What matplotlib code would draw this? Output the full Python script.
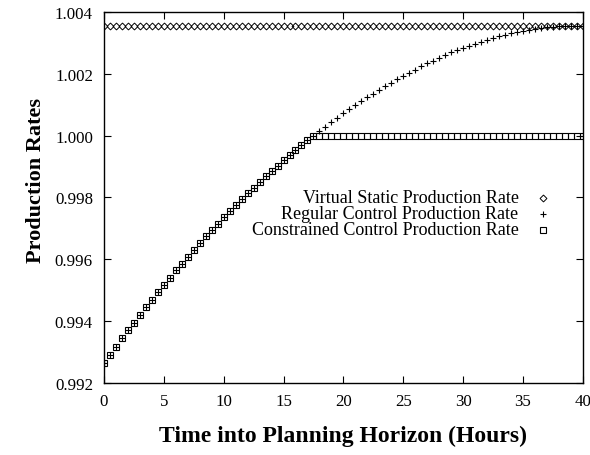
import matplotlib
matplotlib.use("Agg")
import matplotlib.pyplot as plt

# hours into planning horizon, one sample every half hour
hours = [i * 0.5 for i in range(81)]

# values
virtual_static = [1.00355] * 81

regular = [
    0.99265, 0.99292, 0.99318, 0.99344, 0.99370, 0.99395, 0.99420, 0.99445,
    0.99469, 0.99493, 0.99517, 0.99541, 0.99564, 0.99586, 0.99609, 0.99631,
    0.99652, 0.99674, 0.99695, 0.99715, 0.99736, 0.99756, 0.99775, 0.99794,
    0.99813, 0.99832, 0.99850, 0.99868, 0.99886, 0.99903, 0.99920, 0.99937,
    0.99953, 0.99969, 0.99985, 1.00000, 1.00015, 1.00029, 1.00044, 1.00057,
    1.00073, 1.00086, 1.00099, 1.00112, 1.00124, 1.00136, 1.00148, 1.00160,
    1.00171, 1.00182, 1.00193, 1.00204, 1.00214, 1.00224, 1.00234, 1.00243,
    1.00252, 1.00261, 1.00269, 1.00277, 1.00284, 1.00291, 1.00298, 1.00304,
    1.00310, 1.00316, 1.00321, 1.00326, 1.00331, 1.00335, 1.00339, 1.00342,
    1.00345, 1.00348, 1.00351, 1.00353, 1.00355, 1.00355, 1.00355, 1.00355,
    1.00355,
]

# constrained run follows the regular one until it reaches 1.000, then stays there
constrained = regular[:35] + [1.0] * 46

labels = [
    "Virtual Static Production Rate",
    "Regular Control Production Rate",
    "Constrained Control Production Rate",
]

plt.rcParams["font.family"] = ["Liberation Serif", "DejaVu Serif"]

fig = plt.figure(figsize=(5.9, 4.56), dpi=100)
ax = fig.add_axes([0.1763, 0.1579, 0.8113, 0.8136])

styles = [
    dict(marker="D", ms=3.5, mew=0.7, mfc="none"),
    dict(marker="+", ms=5.0, mew=0.8),
    dict(marker="s", ms=4.0, mew=0.8, mfc="none"),
]

for ys, st in zip([virtual_static, regular, constrained], styles):
    ax.plot(hours, ys, ls="none", color="black", **st)

ax.set_xlim(0, 40)
ax.set_ylim(0.992, 1.004)
ax.set_xticks(range(0, 41, 5))
ax.set_yticks([0.992, 0.994, 0.996, 0.998, 1.000, 1.002, 1.004])
ax.set_yticklabels(["0.992", "0.994", "0.996", "0.998", "1.000", "1.002", "1.004"])
ax.tick_params(direction="in", length=5, width=0.8, top=True, right=True, labelsize=12.2)
ax.tick_params(axis="x", pad=7)
ax.tick_params(axis="y", pad=8)
for sp in ax.spines.values():
    sp.set_linewidth(1.0)

# legend drawn by hand: text right aligned, key to its right
rows = [0.499, 0.456, 0.413]
for lab, st, yy in zip(labels, styles, rows):
    ax.text(0.866, yy, lab, transform=ax.transAxes, ha="right", va="center", fontsize=13)
    ax.plot([0.917], [yy], transform=ax.transAxes, color="black", ls="none", clip_on=False, **st)

fig.text(0.582, 0.042, "Time into Planning Horizon (Hours)", ha="center", va="center",
         fontsize=17, fontweight="bold")
fig.text(0.061, 0.605, "Production Rates", ha="center", va="center", rotation=90,
         fontsize=16, fontweight="bold")

fig.savefig("out.png", dpi=100)
